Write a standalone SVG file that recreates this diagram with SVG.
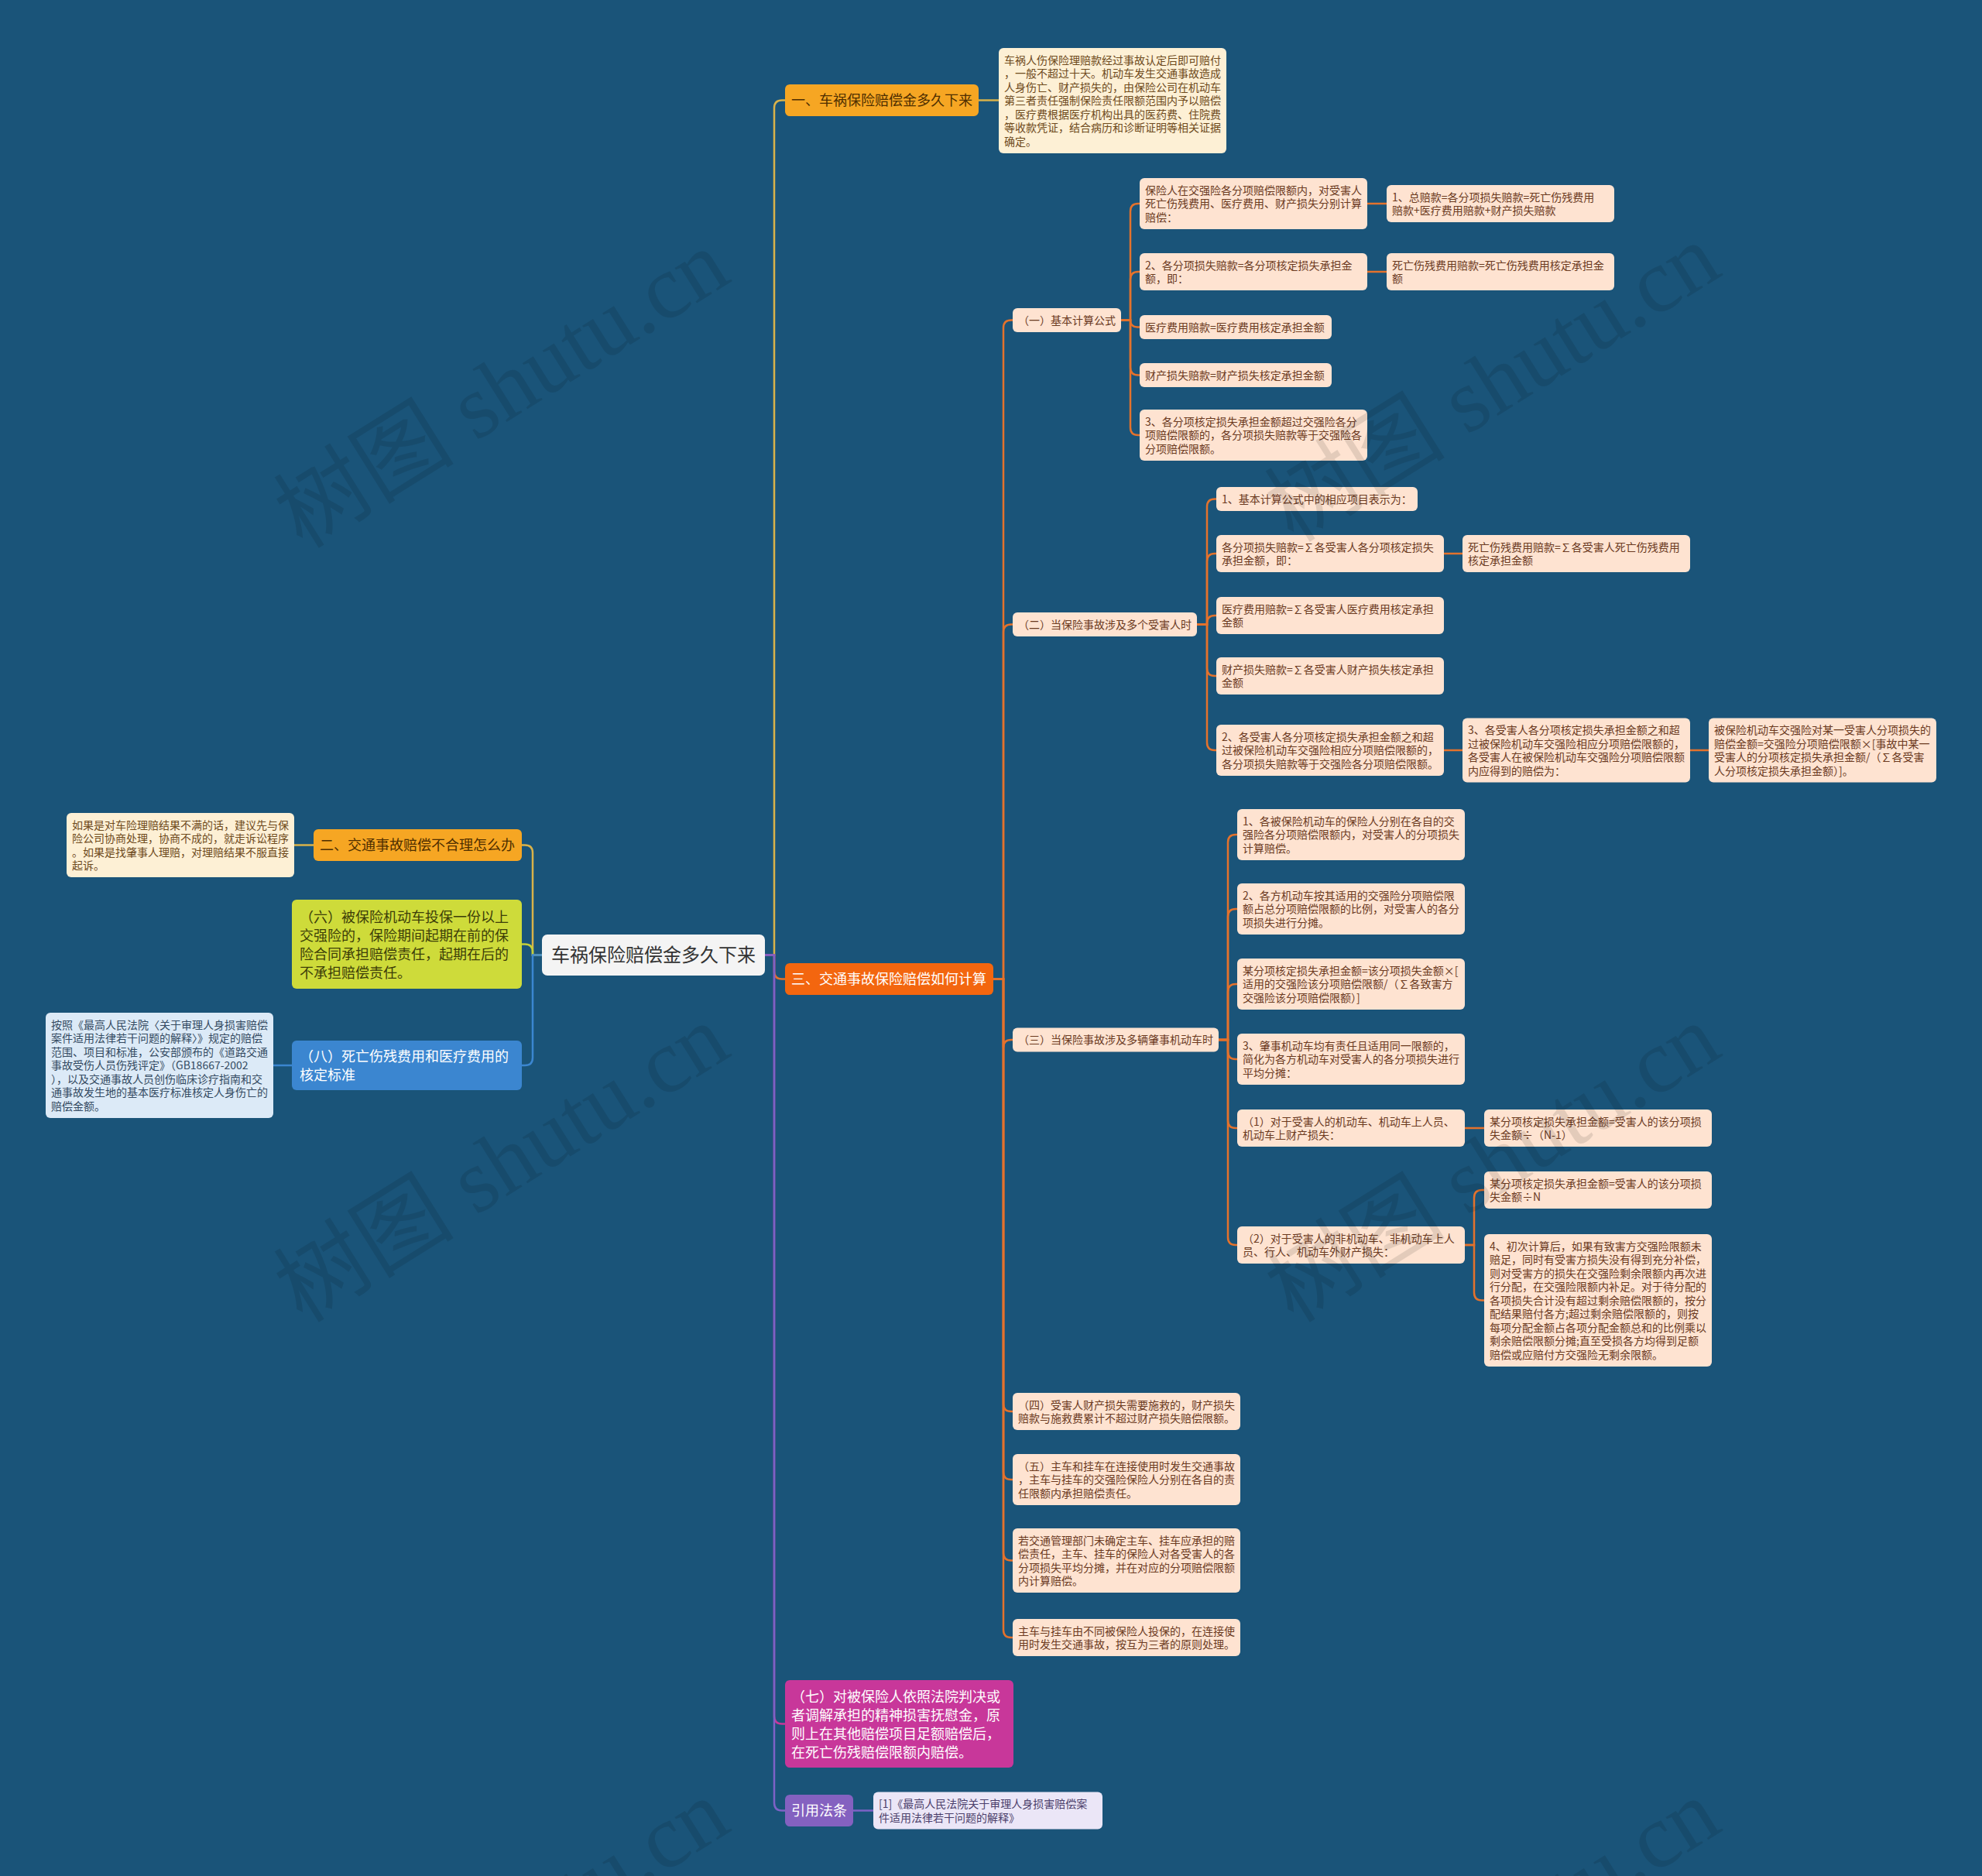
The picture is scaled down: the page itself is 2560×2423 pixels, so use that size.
<svg xmlns="http://www.w3.org/2000/svg" width="2560" height="2423" viewBox="0 0 2560 2423">
<style>
text{font-family:"Noto Sans CJK SC","Liberation Sans",sans-serif;}
.t14{font-size:14px;}
.t18{font-size:18px;}
.t24{font-size:24px;fill:#333333;}
.peach rect{fill:#fee3d1;}
.peach text{fill:#6b3a1f;}
.cream rect{fill:#fdf0d5;}
.cream text{fill:#6e4a1c;}
.lblue rect{fill:#dceaf7;}
.lblue text{fill:#344a62;}
.lav rect{fill:#ebe6f7;}
.lav text{fill:#4b3f6b;}
.gold rect{fill:#f6a623;}
.gold text{fill:#4e2e00;}
.dorange rect{fill:#f3660f;}
.white text{fill:#ffffff;}
.conn path{fill:none;stroke-width:2.5;}
.c-gold{stroke:#d9b24a;}
.c-or{stroke:#e4722c;stroke-width:3;}
.c-lime{stroke:#c5d03a;}
.c-blue{stroke:#3b86d0;}
.c-mag{stroke:#c8379a;}
.c-pur{stroke:#7d62c6;}
.wm{font-family:"Liberation Serif","Noto Sans CJK SC",serif;font-size:117px;fill:#000000;opacity:0.1;}
</style>
<rect x="0" y="0" width="2560" height="2423" fill="#1a5479"/>

<g id="connectors" class="conn">
<path class="c-gold" d="M988,1233.5 H1000 V139.5 Q1000,129.5 1010,129.5 H1014"/>
<path class="c-or" d="M988,1233.5 H1000 V1254.5 Q1000,1264.5 1010,1264.5 H1014"/>
<path class="c-mag" d="M988,1233.5 H1000 V2216.5 Q1000,2226.5 1010,2226.5 H1014"/>
<path class="c-pur" d="M988,1233.5 H1000 V2328.5 Q1000,2338.5 1010,2338.5 H1014"/>
<path class="c-gold" d="M700,1233.5 H688 V1101.5 Q688,1091.5 678,1091.5 H674"/>
<path class="c-lime" d="M700,1233.5 H688 V1229.5 Q688,1219.5 678,1219.5 H674"/>
<path class="c-blue" d="M700,1233.5 H688 V1366 Q688,1376 678,1376 H674"/>
<path class="c-gold" d="M1264,129.5 H1290"/>
<path class="c-gold" d="M405,1091.5 H380"/>
<path class="c-blue" d="M377,1376 H353"/>
<path class="c-pur" d="M1102,2338.5 H1128"/>
<path class="c-or" d="M1283,1264.5 H1296 V423.5 Q1296,413.5 1306,413.5 H1308"/>
<path class="c-or" d="M1283,1264.5 H1296 V816.5 Q1296,806.5 1306,806.5 H1308"/>
<path class="c-or" d="M1283,1264.5 H1296 V1353 Q1296,1343 1306,1343 H1308"/>
<path class="c-or" d="M1283,1264.5 H1296 V1813 Q1296,1823 1306,1823 H1308"/>
<path class="c-or" d="M1283,1264.5 H1296 V1901 Q1296,1911 1306,1911 H1308"/>
<path class="c-or" d="M1283,1264.5 H1296 V2005.5 Q1296,2015.5 1306,2015.5 H1308"/>
<path class="c-or" d="M1283,1264.5 H1296 V2105 Q1296,2115 1306,2115 H1308"/>
<path class="c-or" d="M1448,413.5 H1460 V273 Q1460,263 1470,263 H1472"/>
<path class="c-or" d="M1448,413.5 H1460 V361 Q1460,351 1470,351 H1472"/>
<path class="c-or" d="M1448,413.5 H1460 V413.5 Q1460,422.5 1469,422.5 H1472"/>
<path class="c-or" d="M1448,413.5 H1460 V474.5 Q1460,484.5 1470,484.5 H1472"/>
<path class="c-or" d="M1448,413.5 H1460 V552 Q1460,562 1470,562 H1472"/>
<path class="c-or" d="M1546,806.5 H1559 V654.5 Q1559,644.5 1569,644.5 H1571"/>
<path class="c-or" d="M1546,806.5 H1559 V725 Q1559,715 1569,715 H1571"/>
<path class="c-or" d="M1546,806.5 H1559 V805 Q1559,795 1569,795 H1571"/>
<path class="c-or" d="M1546,806.5 H1559 V863 Q1559,873 1569,873 H1571"/>
<path class="c-or" d="M1546,806.5 H1559 V959 Q1559,969 1569,969 H1571"/>
<path class="c-or" d="M1574,1343 H1586 V1088 Q1586,1078 1596,1078 H1598"/>
<path class="c-or" d="M1574,1343 H1586 V1184 Q1586,1174 1596,1174 H1598"/>
<path class="c-or" d="M1574,1343 H1586 V1281 Q1586,1271 1596,1271 H1598"/>
<path class="c-or" d="M1574,1343 H1586 V1358 Q1586,1368 1596,1368 H1598"/>
<path class="c-or" d="M1574,1343 H1586 V1447 Q1586,1457 1596,1457 H1598"/>
<path class="c-or" d="M1574,1343 H1586 V1598 Q1586,1608 1596,1608 H1598"/>
<path class="c-or" d="M1766,263 H1791"/>
<path class="c-or" d="M1766,351 H1791"/>
<path class="c-or" d="M1865,715 H1889"/>
<path class="c-or" d="M1865,969 H1889"/>
<path class="c-or" d="M2183,969 H2207"/>
<path class="c-or" d="M1892,1457 H1917"/>
<path class="c-or" d="M1892,1608 H1904 V1547 Q1904,1537 1914,1537 H1917"/>
<path class="c-or" d="M1892,1608 H1904 V1669.5 Q1904,1679.5 1914,1679.5 H1917"/>
</g>

<g id="n-root"><rect x="700" y="1207" width="288" height="53" rx="7" fill="#f4f4f4"/><text class="t24" x="712" y="1242">车祸保险赔偿金多久下来</text></g>

<g id="n-b1" class="gold"><rect x="1014" y="109" width="250" height="41" rx="6"/><text class="t18" x="1022" y="136">一、车祸保险赔偿金多久下来</text></g>
<g id="n-b1-note" class="cream"><rect x="1290" y="62" width="294" height="136" rx="6"/><text class="t14" x="1297" y="82.5"><tspan x="1297">车祸人伤保险理赔款经过事故认定后即可赔付</tspan><tspan x="1297" dy="17.5">，一般不超过十天。机动车发生交通事故造成</tspan><tspan x="1297" dy="17.5">人身伤亡、财产损失的，由保险公司在机动车</tspan><tspan x="1297" dy="17.5">第三者责任强制保险责任限额范围内予以赔偿</tspan><tspan x="1297" dy="17.5">，医疗费根据医疗机构出具的医药费、住院费</tspan><tspan x="1297" dy="17.5">等收款凭证，结合病历和诊断证明等相关证据</tspan><tspan x="1297" dy="17.5">确定。</tspan></text></g>

<g id="n-b2" class="gold"><rect x="405" y="1071" width="269" height="41" rx="6"/><text class="t18" x="413" y="1098">二、交通事故赔偿不合理怎么办</text></g>
<g id="n-b2-note" class="cream"><rect x="86" y="1050" width="294" height="83" rx="6"/><text class="t14" x="93" y="1070.5"><tspan x="93">如果是对车险理赔结果不满的话，建议先与保</tspan><tspan x="93" dy="17.5">险公司协商处理，协商不成的，就走诉讼程序</tspan><tspan x="93" dy="17.5">。如果是找肇事人理赔，对理赔结果不服直接</tspan><tspan x="93" dy="17.5">起诉。</tspan></text></g>

<g id="n-b6"><rect x="377" y="1162" width="297" height="115" rx="6" fill="#cedb3a"/><text class="t18" x="387" y="1190.5" fill="#3c3d08"><tspan x="387">（六）被保险机动车投保一份以上</tspan><tspan x="387" dy="24">交强险的，保险期间起期在前的保</tspan><tspan x="387" dy="24">险合同承担赔偿责任，起期在后的</tspan><tspan x="387" dy="24">不承担赔偿责任。</tspan></text></g>

<g id="n-b8" class="white"><rect x="377" y="1344" width="297" height="64" rx="6" fill="#3b86d0"/><text class="t18" x="387" y="1371"><tspan x="387">（八）死亡伤残费用和医疗费用的</tspan><tspan x="387" dy="24">核定标准</tspan></text></g>
<g id="n-b8-note" class="lblue"><rect x="59" y="1308" width="294" height="136" rx="6"/><text class="t14" x="66" y="1328.5"><tspan x="66">按照《最高人民法院〈关于审理人身损害赔偿</tspan><tspan x="66" dy="17.5">案件适用法律若干问题的解释〉》规定的赔偿</tspan><tspan x="66" dy="17.5">范围、项目和标准，公安部颁布的《道路交通</tspan><tspan x="66" dy="17.5">事故受伤人员伤残评定》（GB18667-2002</tspan><tspan x="66" dy="17.5">），以及交通事故人员创伤临床诊疗指南和交</tspan><tspan x="66" dy="17.5">通事故发生地的基本医疗标准核定人身伤亡的</tspan><tspan x="66" dy="17.5">赔偿金额。</tspan></text></g>

<g id="n-b3" class="dorange white"><rect x="1014" y="1244" width="269" height="41" rx="6"/><text class="t18" x="1022" y="1271">三、交通事故保险赔偿如何计算</text></g>

<g id="n-b7" class="white"><rect x="1014" y="2170" width="295" height="113" rx="6" fill="#c8379a"/><text class="t18" x="1022" y="2197.5"><tspan x="1022">（七）对被保险人依照法院判决或</tspan><tspan x="1022" dy="24">者调解承担的精神损害抚慰金，原</tspan><tspan x="1022" dy="24">则上在其他赔偿项目足额赔偿后，</tspan><tspan x="1022" dy="24">在死亡伤残赔偿限额内赔偿。</tspan></text></g>

<g id="n-law" class="white"><rect x="1014" y="2318" width="88" height="41" rx="6" fill="#8461c0"/><text class="t18" x="1022" y="2345">引用法条</text></g>
<g id="n-law-note" class="lav"><rect x="1128" y="2314.5" width="296" height="48" rx="6"/><text class="t14" x="1135" y="2335"><tspan x="1135">[1]《最高人民法院关于审理人身损害赔偿案</tspan><tspan x="1135" dy="17.5">件适用法律若干问题的解释》</tspan></text></g>

<g id="n-s1" class="peach"><rect x="1308" y="398" width="140" height="31" rx="6"/><text class="t14" x="1315" y="418.5">（一）基本计算公式</text></g>
<g id="n-s1-a1" class="peach"><rect x="1472" y="230" width="294" height="66" rx="6"/><text class="t14" x="1479" y="250.5"><tspan x="1479">保险人在交强险各分项赔偿限额内，对受害人</tspan><tspan x="1479" dy="17.5">死亡伤残费用、医疗费用、财产损失分别计算</tspan><tspan x="1479" dy="17.5">赔偿：</tspan></text></g>
<g id="n-s1-a1c" class="peach"><rect x="1791" y="239" width="294" height="48" rx="6"/><text class="t14" x="1798" y="259.5"><tspan x="1798">1、总赔款=各分项损失赔款=死亡伤残费用</tspan><tspan x="1798" dy="17.5">赔款+医疗费用赔款+财产损失赔款</tspan></text></g>
<g id="n-s1-a2" class="peach"><rect x="1472" y="327" width="294" height="48" rx="6"/><text class="t14" x="1479" y="347.5"><tspan x="1479">2、各分项损失赔款=各分项核定损失承担金</tspan><tspan x="1479" dy="17.5">额，即：</tspan></text></g>
<g id="n-s1-a2c" class="peach"><rect x="1791" y="327" width="294" height="48" rx="6"/><text class="t14" x="1798" y="347.5"><tspan x="1798">死亡伤残费用赔款=死亡伤残费用核定承担金</tspan><tspan x="1798" dy="17.5">额</tspan></text></g>
<g id="n-s1-a3" class="peach"><rect x="1472" y="407" width="248" height="31" rx="6"/><text class="t14" x="1479" y="427.5">医疗费用赔款=医疗费用核定承担金额</text></g>
<g id="n-s1-a4" class="peach"><rect x="1472" y="469" width="248" height="31" rx="6"/><text class="t14" x="1479" y="489.5">财产损失赔款=财产损失核定承担金额</text></g>
<g id="n-s1-a5" class="peach"><rect x="1472" y="529" width="294" height="66" rx="6"/><text class="t14" x="1479" y="549.5"><tspan x="1479">3、各分项核定损失承担金额超过交强险各分</tspan><tspan x="1479" dy="17.5">项赔偿限额的，各分项损失赔款等于交强险各</tspan><tspan x="1479" dy="17.5">分项赔偿限额。</tspan></text></g>

<g id="n-s2" class="peach"><rect x="1308" y="791" width="238" height="31" rx="6"/><text class="t14" x="1315" y="811.5">（二）当保险事故涉及多个受害人时</text></g>
<g id="n-s2-b1" class="peach"><rect x="1571" y="629" width="260" height="31" rx="6"/><text class="t14" x="1578" y="649.5">1、基本计算公式中的相应项目表示为：</text></g>
<g id="n-s2-b2" class="peach"><rect x="1571" y="691" width="294" height="48" rx="6"/><text class="t14" x="1578" y="711.5"><tspan x="1578">各分项损失赔款=∑各受害人各分项核定损失</tspan><tspan x="1578" dy="17.5">承担金额，即：</tspan></text></g>
<g id="n-s2-b2c" class="peach"><rect x="1889" y="691" width="294" height="48" rx="6"/><text class="t14" x="1896" y="711.5"><tspan x="1896">死亡伤残费用赔款=∑各受害人死亡伤残费用</tspan><tspan x="1896" dy="17.5">核定承担金额</tspan></text></g>
<g id="n-s2-b3" class="peach"><rect x="1571" y="771" width="294" height="48" rx="6"/><text class="t14" x="1578" y="791.5"><tspan x="1578">医疗费用赔款=∑各受害人医疗费用核定承担</tspan><tspan x="1578" dy="17.5">金额</tspan></text></g>
<g id="n-s2-b4" class="peach"><rect x="1571" y="849" width="294" height="48" rx="6"/><text class="t14" x="1578" y="869.5"><tspan x="1578">财产损失赔款=∑各受害人财产损失核定承担</tspan><tspan x="1578" dy="17.5">金额</tspan></text></g>
<g id="n-s2-b5" class="peach"><rect x="1571" y="936" width="294" height="66" rx="6"/><text class="t14" x="1578" y="956.5"><tspan x="1578">2、各受害人各分项核定损失承担金额之和超</tspan><tspan x="1578" dy="17.5">过被保险机动车交强险相应分项赔偿限额的，</tspan><tspan x="1578" dy="17.5">各分项损失赔款等于交强险各分项赔偿限额。</tspan></text></g>
<g id="n-s2-b5c" class="peach"><rect x="1889" y="927.5" width="294" height="83" rx="6"/><text class="t14" x="1896" y="948"><tspan x="1896">3、各受害人各分项核定损失承担金额之和超</tspan><tspan x="1896" dy="17.5">过被保险机动车交强险相应分项赔偿限额的，</tspan><tspan x="1896" dy="17.5">各受害人在被保险机动车交强险分项赔偿限额</tspan><tspan x="1896" dy="17.5">内应得到的赔偿为：</tspan></text></g>
<g id="n-s2-b5cc" class="peach"><rect x="2207" y="927.5" width="294" height="83" rx="6"/><text class="t14" x="2214" y="948"><tspan x="2214">被保险机动车交强险对某一受害人分项损失的</tspan><tspan x="2214" dy="17.5">赔偿金额=交强险分项赔偿限额×[事故中某一</tspan><tspan x="2214" dy="17.5">受害人的分项核定损失承担金额/（∑各受害</tspan><tspan x="2214" dy="17.5">人分项核定损失承担金额）]。</tspan></text></g>

<g id="n-s3" class="peach"><rect x="1308" y="1327.5" width="266" height="31" rx="6"/><text class="t14" x="1315" y="1348">（三）当保险事故涉及多辆肇事机动车时</text></g>
<g id="n-s3-c1" class="peach"><rect x="1598" y="1045" width="294" height="66" rx="6"/><text class="t14" x="1605" y="1065.5"><tspan x="1605">1、各被保险机动车的保险人分别在各自的交</tspan><tspan x="1605" dy="17.5">强险各分项赔偿限额内，对受害人的分项损失</tspan><tspan x="1605" dy="17.5">计算赔偿。</tspan></text></g>
<g id="n-s3-c2" class="peach"><rect x="1598" y="1141" width="294" height="66" rx="6"/><text class="t14" x="1605" y="1161.5"><tspan x="1605">2、各方机动车按其适用的交强险分项赔偿限</tspan><tspan x="1605" dy="17.5">额占总分项赔偿限额的比例，对受害人的各分</tspan><tspan x="1605" dy="17.5">项损失进行分摊。</tspan></text></g>
<g id="n-s3-c3" class="peach"><rect x="1598" y="1238" width="294" height="66" rx="6"/><text class="t14" x="1605" y="1258.5"><tspan x="1605">某分项核定损失承担金额=该分项损失金额×[</tspan><tspan x="1605" dy="17.5">适用的交强险该分项赔偿限额/（∑各致害方</tspan><tspan x="1605" dy="17.5">交强险该分项赔偿限额）]</tspan></text></g>
<g id="n-s3-c4" class="peach"><rect x="1598" y="1335" width="294" height="66" rx="6"/><text class="t14" x="1605" y="1355.5"><tspan x="1605">3、肇事机动车均有责任且适用同一限额的，</tspan><tspan x="1605" dy="17.5">简化为各方机动车对受害人的各分项损失进行</tspan><tspan x="1605" dy="17.5">平均分摊：</tspan></text></g>
<g id="n-s3-c5" class="peach"><rect x="1598" y="1433" width="294" height="48" rx="6"/><text class="t14" x="1605" y="1453.5"><tspan x="1605">（1）对于受害人的机动车、机动车上人员、</tspan><tspan x="1605" dy="17.5">机动车上财产损失：</tspan></text></g>
<g id="n-s3-c5c" class="peach"><rect x="1917" y="1433" width="294" height="48" rx="6"/><text class="t14" x="1924" y="1453.5"><tspan x="1924">某分项核定损失承担金额=受害人的该分项损</tspan><tspan x="1924" dy="17.5">失金额÷（N-1）</tspan></text></g>
<g id="n-s3-c6" class="peach"><rect x="1598" y="1584" width="294" height="48" rx="6"/><text class="t14" x="1605" y="1604.5"><tspan x="1605">（2）对于受害人的非机动车、非机动车上人</tspan><tspan x="1605" dy="17.5">员、行人、机动车外财产损失：</tspan></text></g>
<g id="n-s3-c6a" class="peach"><rect x="1917" y="1513" width="294" height="48" rx="6"/><text class="t14" x="1924" y="1533.5"><tspan x="1924">某分项核定损失承担金额=受害人的该分项损</tspan><tspan x="1924" dy="17.5">失金额÷N</tspan></text></g>
<g id="n-s3-c6b" class="peach"><rect x="1917" y="1594" width="294" height="171" rx="6"/><text class="t14" x="1924" y="1614.5"><tspan x="1924">4、初次计算后，如果有致害方交强险限额未</tspan><tspan x="1924" dy="17.5">赔足，同时有受害方损失没有得到充分补偿，</tspan><tspan x="1924" dy="17.5">则对受害方的损失在交强险剩余限额内再次进</tspan><tspan x="1924" dy="17.5">行分配，在交强险限额内补足。对于待分配的</tspan><tspan x="1924" dy="17.5">各项损失合计没有超过剩余赔偿限额的，按分</tspan><tspan x="1924" dy="17.5">配结果赔付各方;超过剩余赔偿限额的，则按</tspan><tspan x="1924" dy="17.5">每项分配金额占各项分配金额总和的比例乘以</tspan><tspan x="1924" dy="17.5">剩余赔偿限额分摊;直至受损各方均得到足额</tspan><tspan x="1924" dy="17.5">赔偿或应赔付方交强险无剩余限额。</tspan></text></g>

<g id="n-s4" class="peach"><rect x="1308" y="1799" width="294" height="48" rx="6"/><text class="t14" x="1315" y="1819.5"><tspan x="1315">（四）受害人财产损失需要施救的，财产损失</tspan><tspan x="1315" dy="17.5">赔款与施救费累计不超过财产损失赔偿限额。</tspan></text></g>
<g id="n-s5" class="peach"><rect x="1308" y="1878" width="294" height="66" rx="6"/><text class="t14" x="1315" y="1898.5"><tspan x="1315">（五）主车和挂车在连接使用时发生交通事故</tspan><tspan x="1315" dy="17.5">，主车与挂车的交强险保险人分别在各自的责</tspan><tspan x="1315" dy="17.5">任限额内承担赔偿责任。</tspan></text></g>
<g id="n-s6" class="peach"><rect x="1308" y="1974" width="294" height="83" rx="6"/><text class="t14" x="1315" y="1994.5"><tspan x="1315">若交通管理部门未确定主车、挂车应承担的赔</tspan><tspan x="1315" dy="17.5">偿责任，主车、挂车的保险人对各受害人的各</tspan><tspan x="1315" dy="17.5">分项损失平均分摊，并在对应的分项赔偿限额</tspan><tspan x="1315" dy="17.5">内计算赔偿。</tspan></text></g>
<g id="n-s7" class="peach"><rect x="1308" y="2091" width="294" height="48" rx="6"/><text class="t14" x="1315" y="2111.5"><tspan x="1315">主车与挂车由不同被保险人投保的，在连接使</tspan><tspan x="1315" dy="17.5">用时发生交通事故，按互为三者的原则处理。</tspan></text></g>

<g id="watermarks">
<text class="wm" text-anchor="middle" transform="translate(669,536) rotate(-32)">树图 shutu.cn</text>
<text class="wm" text-anchor="middle" transform="translate(1949,528) rotate(-32)">树图 shutu.cn</text>
<text class="wm" text-anchor="middle" transform="translate(669,1536) rotate(-32)">树图 shutu.cn</text>
<text class="wm" text-anchor="middle" transform="translate(1949,1536) rotate(-32)">树图 shutu.cn</text>
<text class="wm" text-anchor="middle" transform="translate(669,2537) rotate(-32)">树图 shutu.cn</text>
<text class="wm" text-anchor="middle" transform="translate(1949,2537) rotate(-32)">树图 shutu.cn</text>
</g>
</svg>
